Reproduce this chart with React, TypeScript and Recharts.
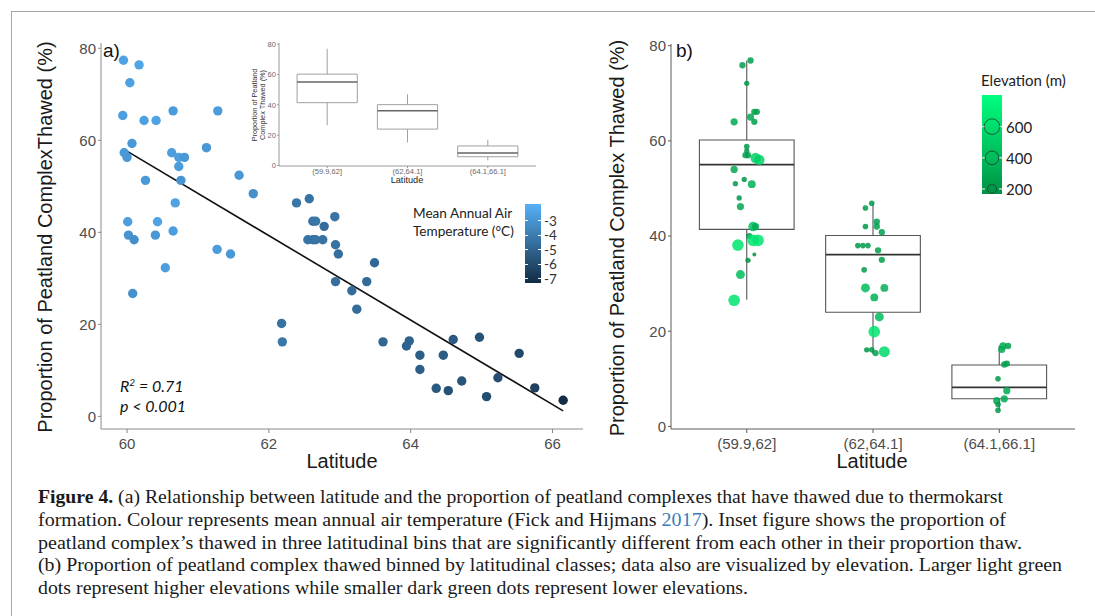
import React from "react";
import { ScatterChart, Scatter, XAxis, YAxis, ReferenceLine, ReferenceArea } from "recharts";

// ---- panel a: latitude vs proportion thawed, coloured by MAAT ----
const latA = [
  59.95, 60.17, 60.04, 59.94, 60.24, 60.41, 60.65, 61.28, 60.07, 59.96, 60.0, 61.12, 60.63, 60.73, 60.81, 60.73,
  60.76, 60.26, 61.58, 61.78, 60.68, 62.39, 62.57, 62.62, 62.66, 62.78, 60.01, 60.43, 60.02, 60.1, 60.4, 60.65,
  60.54, 60.08, 61.27, 61.46, 62.18, 62.19, 62.55, 62.62, 62.66, 62.76, 62.93, 62.94, 62.98, 63.49, 62.94, 63.38,
  63.17, 63.24, 63.61, 63.94, 63.98, 64.13, 64.13, 64.46, 64.6, 64.97, 65.53, 64.72, 64.36, 64.53, 65.23, 65.07,
  65.75, 66.15,
];
const thawA = [
  77.4, 76.4, 72.5, 65.4, 64.3, 64.3, 66.4, 66.4, 59.3, 57.3, 56.3, 58.4, 57.3, 56.3, 56.3, 54.3, 51.3, 51.3, 52.4,
  48.4, 46.4, 46.4, 47.3, 42.4, 42.4, 41.3, 42.3, 42.3, 39.4, 38.4, 39.4, 40.3, 32.3, 26.7, 36.3, 35.3, 20.2, 16.2,
  38.4, 38.4, 38.4, 38.4, 43.4, 37.3, 35.3, 33.4, 29.3, 29.3, 27.3, 23.3, 16.2, 15.3, 16.4, 13.3, 10.2, 13.3, 16.7,
  17.2, 13.7, 7.7, 6.1, 5.6, 8.4, 4.3, 6.2, 3.5,
];
const tempA = [
  -2.4, -2.3, -2.5, -2.6, -2.5, -2.4, -2.7, -2.7, -2.8, -2.8, -2.9, -2.9, -2.6, -2.6, -2.8, -2.7, -3.0, -2.8, -2.9,
  -3.2, -2.4, -4.2, -4.4, -4.3, -4.2, -4.6, -2.6, -2.4, -3.0, -3.2, -2.9, -2.6, -2.6, -3.1, -2.7, -2.8, -4.4, -4.2,
  -4.3, -4.4, -4.3, -4.4, -4.3, -4.4, -4.5, -4.8, -4.5, -4.7, -4.6, -4.6, -4.9, -5.0, -5.0, -5.2, -5.2, -5.3, -5.4,
  -5.7, -6.0, -5.6, -5.4, -5.7, -5.9, -5.9, -6.4, -7.2,
];
const fitLat = [59.94, 66.15];
const fitThaw = [58.2, 1.2];
const tempTicks = [-3, -4, -5, -6, -7];

// ---- panel b / inset: latitudinal bins ----
const binLabels = ["(59.9,62]", "(62,64.1]", "(64.1,66.1]"];
const whiskerLo = [26.6, 15.2, 3.4];
const q1 = [41.4, 24, 5.8];
const median = [55, 36.1, 8.2];
const q3 = [60.2, 40.1, 12.9];
const whiskerHi = [76.9, 46.9, 17.0];

const jitterB = [
  0.966, 1.03, 1.0, 0.9, 1.03, 1.06, 1.08, 1.06, 1.0, 1.0, 0.99, 1.01, 1.07, 1.1, 0.9, 0.98, 1.04, 0.91, 0.94, 0.95,
  1.05, 1.07, 1.02, 0.93, 1.05, 1.09, 1.06, 1.01, 0.95, 0.9,
  1.99, 1.94, 1.94, 2.03, 2.03, 2.07, 1.88, 1.92, 1.96, 2.04, 2.07, 1.93, 1.94, 2.09, 2.01, 2.05, 2.01, 1.95, 1.99,
  2.02, 2.09,
  3.03, 3.07, 3.02, 3.04, 3.06, 2.99, 3.06, 3.04, 2.98, 2.99, 2.99,
];
const thawB = [
  75.9, 76.9, 72.1, 64.0, 65.0, 66.1, 66.1, 64, 58.8, 57.9, 57, 57, 56.4, 56.0, 54, 51.9, 50.9, 51.0, 48, 46.2, 42.0,
  42.0, 40.0, 38.1, 39.1, 39.1, 36.1, 34.9, 31.9, 26.5,
  46.9, 45.9, 42.0, 43.0, 42, 40.8, 38, 38, 38, 37, 35, 32.9, 29.1, 29.1, 27.1, 23, 19.9, 16.1, 16.1, 15.4, 15.7,
  16.9, 16.9, 16.2, 13, 13.2, 10, 7.5, 5.8, 5.4, 4.6, 3.4,
];
const elevB = [
  250, 250, 200, 300, 300, 250, 250, 250, 215, 200, 250, 250, 530, 530, 300, 200, 340, 200, 200, 300, 460, 300, 250,
  650, 650, 650, 150, 200, 420, 650,
  215, 215, 215, 250, 250, 250, 215, 215, 215, 250, 250, 215, 420, 340, 340, 420, 650, 200, 215, 250, 580,
  300, 250, 300, 250, 250, 215, 300, 300, 300, 215, 215,
];
const elevTicks = [600, 400, 200];

const pointsA = latA.map((lat, i) => ({ lat, thaw: thawA[i], temp: tempA[i] }));
const pointsB = jitterB.map((x, i) => ({ x, thaw: thawB[i], elev: elevB[i] }));
const boxRows = binLabels.map((label, i) => ({ x: i + 1, thaw: median[i], label }));

const TEMP_MIN = -7.28;
const TEMP_MAX = -1.83;
const ELEV_MIN = 168;
const ELEV_MAX = 803;
const BLUE_LO = "#132B43";
const BLUE_HI = "#56B1F7";
const GREEN_LO = "#009245";
const GREEN_HI = "#00FF7F";

const SANS = "'Liberation Sans', Arial, sans-serif";
const LEG = "Lato, 'Open Sans', sans-serif";

function rgb(c: string) {
  const n = parseInt(c.slice(1), 16);
  return [(n >> 16) & 255, (n >> 8) & 255, n & 255];
}
function mix(a: string, b: string, t: number) {
  const k = Math.max(0, Math.min(1, t));
  const A = rgb(a);
  const B = rgb(b);
  return `rgb(${A.map((v, i) => Math.round(v + (B[i] - v) * k)).join(",")})`;
}
const tempColor = (t: number) => mix(BLUE_LO, BLUE_HI, (t - TEMP_MIN) / (TEMP_MAX - TEMP_MIN));
const elevColor = (e: number) => mix(GREEN_LO, GREEN_HI, (e - ELEV_MIN) / (ELEV_MAX - ELEV_MIN));
const elevRadius = (e: number) => Math.sqrt(4 + Math.max(0, e - 150) * 0.06);

const DotA = (p: any) => <circle cx={p.cx} cy={p.cy} r={4.7} fill={tempColor(p.payload.temp)} />;
const DotB = (p: any) => (
  <circle cx={p.cx} cy={p.cy} r={elevRadius(p.payload.elev)} fill={elevColor(p.payload.elev)} fillOpacity={0.85} />
);
const NoDot = () => <g />;

function boxes(stroke: string, medStroke: string, sw: number) {
  const out: React.ReactNode[] = [];
  binLabels.forEach((_, i) => {
    const x = i + 1;
    out.push(
      <ReferenceLine key={`wl${i}`} segment={[{ x, y: whiskerLo[i] }, { x, y: q1[i] }]} stroke={stroke} strokeWidth={sw} />,
      <ReferenceLine key={`wh${i}`} segment={[{ x, y: q3[i] }, { x, y: whiskerHi[i] }]} stroke={stroke} strokeWidth={sw} />,
      <ReferenceArea key={`b${i}`} x1={x - 0.375} x2={x + 0.375} y1={q1[i]} y2={q3[i]} fill="#fff" fillOpacity={1} stroke={stroke} strokeWidth={sw} />,
      <ReferenceLine key={`m${i}`} segment={[{ x: x - 0.375, y: median[i] }, { x: x + 0.375, y: median[i] }]} stroke={medStroke} strokeWidth={sw * 1.5} />
    );
  });
  return out;
}

const abs = (left: number, top: number, extra: React.CSSProperties = {}): React.CSSProperties => ({
  position: "absolute",
  left,
  top,
  whiteSpace: "nowrap",
  ...extra,
});
const centered = (x: number, y: number, size: number, extra: React.CSSProperties = {}): React.CSSProperties =>
  abs(x, y, { fontSize: size, lineHeight: 1, transform: "translate(-50%, -50%)", ...extra });
const rotated = (x: number, y: number, size: number, extra: React.CSSProperties = {}): React.CSSProperties =>
  abs(x, y, { fontSize: size, lineHeight: 1, transform: "translate(-50%, -50%) rotate(-90deg)", ...extra });

const caption: { t: string; b?: boolean; c?: string }[][] = [
  [{ t: "Figure 4.", b: true }, { t: " (a) Relationship between latitude and the proportion of peatland complexes that have thawed due to thermokarst" }],
  [{ t: "formation. Colour represents mean annual air temperature (Fick and Hijmans " }, { t: "2017", c: "#3a7bbf" }, { t: "). Inset figure shows the proportion of" }],
  [{ t: "peatland complex\u2019s thawed in three latitudinal bins that are significantly different from each other in their proportion thaw." }],
  [{ t: "(b) Proportion of peatland complex thawed binned by latitudinal classes; data also are visualized by elevation. Larger light green" }],
  [{ t: "dots represent higher elevations while smaller dark green dots represent lower elevations." }],
];
const captionWidths = [965, 968, 984, 1024, 710];

export default function App() {
  const axisA = { stroke: "#8a8a8a" };
  const axisB = { stroke: "#5a5a5a" };
  const tickA = { fill: "#4d4d4d", fontSize: 15, fontFamily: SANS };
  const tickIn = { fill: "#6a6a6a", fontSize: 7.6, fontFamily: SANS };

  const tempBar = { top: 204, h: 79 };
  const tempY = (v: number) => tempBar.top + ((TEMP_MAX - v) / (TEMP_MAX - TEMP_MIN)) * tempBar.h;
  const elevBar = { top: 95, h: 99 };
  const elevY = (v: number) => elevBar.top + ((ELEV_MAX - v) / (ELEV_MAX - ELEV_MIN)) * elevBar.h;
  const legendCircle: Record<number, number> = { 600: 7.8, 400: 6.8, 200: 4.5 };

  return (
    <div style={{ position: "absolute", left: 0, top: 0, width: 1095, height: 616, background: "#fff", overflow: "hidden", fontFamily: SANS }}>
      <div style={abs(11, 11, { width: 1100, height: 620, borderTop: "1px solid #a8a8a8", borderLeft: "1px solid #a8a8a8" })} />

      {/* panel a */}
      <div style={abs(0, 0)}>
        <ScatterChart width={600} height={480} margin={{ top: 43, right: 17, bottom: 21, left: 61 }}>
          <XAxis type="number" dataKey="lat" domain={[59.633, 66.43]} allowDataOverflow ticks={[60, 62, 64, 66]} interval={0}
            height={30} axisLine={axisA} tickLine={axisA} tickSize={4} tickMargin={5} tick={tickA} />
          <YAxis type="number" dataKey="thaw" domain={[-2.74, 81.15]} allowDataOverflow ticks={[0, 20, 40, 60, 80]} interval={0}
            width={40} axisLine={axisA} tickLine={axisA} tickSize={3} tickMargin={2} tick={tickA} />
          <ReferenceLine segment={[{ x: fitLat[0], y: fitThaw[0] }, { x: fitLat[1], y: fitThaw[1] }]} stroke="#111" strokeWidth={1.6} />
          <Scatter data={pointsA} shape={DotA} isAnimationActive={false} />
        </ScatterChart>
      </div>

      {/* inset */}
      <div style={abs(230, 30)}>
        <ScatterChart width={320} height={170} margin={{ top: 13, right: 14, bottom: 20, left: 29 }}>
          <XAxis type="number" dataKey="x" domain={[0.4, 3.6]} allowDataOverflow ticks={[1, 2, 3]} interval={0}
            tickFormatter={(v: number) => binLabels[v - 1]} height={14} axisLine={{ stroke: "#999" }} tickLine={{ stroke: "#999" }}
            tickSize={2} tickMargin={1} tick={tickIn} />
          <YAxis type="number" dataKey="thaw" domain={[-0.3, 80.7]} allowDataOverflow ticks={[0, 20, 40, 60, 80]} interval={0}
            width={20} axisLine={{ stroke: "#999" }} tickLine={{ stroke: "#999" }} tickSize={2} tickMargin={1} tick={tickIn} />
          {boxes("#a0a0a0", "#666", 1)}
          <Scatter data={boxRows} shape={NoDot} isAnimationActive={false} />
        </ScatterChart>
      </div>

      {/* panel b */}
      <div style={abs(600, 0)}>
        <ScatterChart width={495} height={480} margin={{ top: 44, right: 20, bottom: 21, left: 31 }}>
          <XAxis type="number" dataKey="x" domain={[0.4, 3.6]} allowDataOverflow ticks={[1, 2, 3]} interval={0}
            tickFormatter={(v: number) => binLabels[v - 1]} height={30} axisLine={axisB} tickLine={axisB} tickSize={4} tickMargin={5} tick={tickA} />
          <YAxis type="number" dataKey="thaw" domain={[-0.55, 80.36]} allowDataOverflow ticks={[0, 20, 40, 60, 80]} interval={0}
            width={40} axisLine={axisB} tickLine={axisB} tickSize={3} tickMargin={2} tick={tickA} />
          {boxes("#555", "#333", 1.1)}
          <Scatter data={pointsB} shape={DotB} isAnimationActive={false} />
        </ScatterChart>
      </div>

      {/* panel a text */}
      <div style={rotated(45, 237, 20, { color: "#1a1a1a" })}>Proportion of Peatland ComplexThawed (%)</div>
      <div style={centered(342, 461, 20, { color: "#1a1a1a" })}>Latitude</div>
      <div style={abs(103, 41, { fontSize: 19, lineHeight: 1, color: "#111" })}>a)</div>
      <div style={abs(120, 372, { fontFamily: LEG, fontStyle: "italic", fontSize: 16, lineHeight: "20px", color: "#111" })}>
        R<sup style={{ fontSize: 10, verticalAlign: 6 }}>2</sup> = 0.71
        <br />p &lt; 0.001
      </div>
      <div style={abs(413, 204, { fontFamily: LEG, fontSize: 13.6, lineHeight: "18.4px", color: "#222" })}>
        Mean Annual Air
        <br />
        Temperature (°C)
      </div>
      <div style={abs(525, tempBar.top, { width: 15.5, height: tempBar.h, background: `linear-gradient(to bottom, ${BLUE_HI}, ${BLUE_LO})` })} />
      {tempTicks.map((v) => (
        <React.Fragment key={v}>
          <div style={abs(525, tempY(v) - 0.5, { width: 3, height: 1, background: "#fff" })} />
          <div style={abs(537.5, tempY(v) - 0.5, { width: 3, height: 1, background: "#fff" })} />
          <div style={abs(544, tempY(v) - 7, { fontFamily: LEG, fontSize: 13.5, lineHeight: "14px", color: "#333" })}>{v}</div>
        </React.Fragment>
      ))}

      {/* inset text */}
      <div style={centered(407, 181, 9.2, { color: "#222" })}>Latitude</div>
      <div style={rotated(259, 105, 7.3, { color: "#333", lineHeight: "8px", textAlign: "center" })}>
        Proportion of Peatland
        <br />
        Complex Thawed (%)
      </div>

      {/* panel b text */}
      <div style={rotated(617, 238, 20, { color: "#1a1a1a" })}>Proportion of Peatland Complex Thawed (%)</div>
      <div style={centered(872, 461, 20, { color: "#1a1a1a" })}>Latitude</div>
      <div style={abs(676, 41, { fontSize: 19, lineHeight: 1, color: "#111" })}>b)</div>
      <div style={abs(981, 71, { fontFamily: LEG, fontSize: 15, lineHeight: "18px", color: "#222" })}>Elevation (m)</div>
      <div style={abs(982, elevBar.top, { width: 20, height: elevBar.h, background: `linear-gradient(to bottom, ${GREEN_HI}, ${GREEN_LO})` })} />
      <svg style={abs(970, 85)} width={40} height={120}>
        {elevTicks.map((v) => (
          <g key={v}>
            <line x1={12} x2={15} y1={elevY(v) - 85} y2={elevY(v) - 85} stroke="#fff" />
            <line x1={29} x2={32} y1={elevY(v) - 85} y2={elevY(v) - 85} stroke="#fff" />
            <circle cx={22} cy={elevY(v) - 85} r={legendCircle[v]} fill="none" stroke="#1f3b2a" strokeWidth={0.8} />
          </g>
        ))}
      </svg>
      {elevTicks.map((v) => (
        <div key={v} style={abs(1006, elevY(v) - 8, { fontFamily: LEG, fontSize: 15, lineHeight: "16px", color: "#222" })}>{v}</div>
      ))}

      {/* caption */}
      <svg style={abs(0, 480)} width={1095} height={136}>
        {caption.map((line, i) => (
          <text key={i} x={38} y={23 + i * 22.75} textLength={captionWidths[i]} lengthAdjust="spacingAndGlyphs"
            fontFamily="'Liberation Serif', 'DejaVu Serif', serif" fontSize={18.5} fill="#1a1a1a">
            {line.map((s, j) => (
              <tspan key={j} fontWeight={s.b ? "bold" : undefined} fill={s.c}>{s.t}</tspan>
            ))}
          </text>
        ))}
      </svg>
    </div>
  );
}
